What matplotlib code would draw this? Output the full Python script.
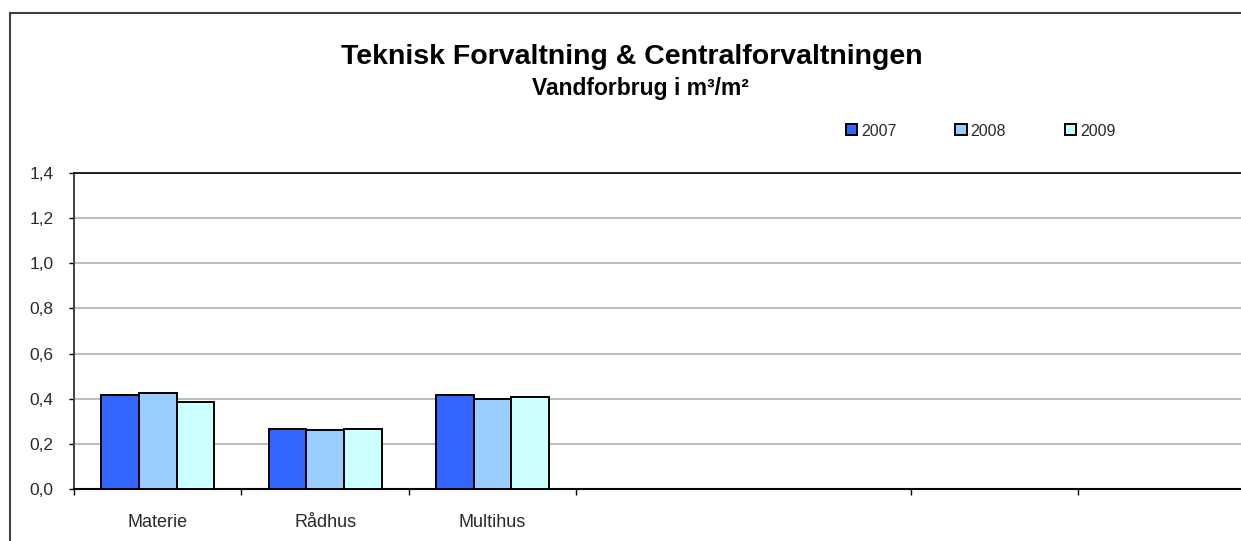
import matplotlib
matplotlib.use("Agg")
import matplotlib.pyplot as plt
from matplotlib.patches import Rectangle
import numpy as np

categories = ["Materie", "Rådhus", "Multihus", "", "", "", ""]
years = ["2007", "2008", "2009"]
v2007 = [0.418, 0.264, 0.418, np.nan, np.nan, np.nan, np.nan]
v2008 = [0.424, 0.260, 0.398, np.nan, np.nan, np.nan, np.nan]
v2009 = [0.387, 0.264, 0.407, np.nan, np.nan, np.nan, np.nan]
yticks = [0.0, 0.2, 0.4, 0.6, 0.8, 1.0, 1.2, 1.4]
ytick_labels = ["0,0", "0,2", "0,4", "0,6", "0,8", "1,0", "1,2", "1,4"]
title = "Teknisk Forvaltning & Centralforvaltningen"
subtitle = "Vandforbrug i m³/m²"

colors = ["#3366FF", "#99CCFF", "#CCFFFF"]

plt.rcParams['font.family'] = ['Liberation Sans', 'DejaVu Sans']

W, H = 1241, 541
fig = plt.figure(figsize=(W / 100, H / 100), dpi=100)

# outer chart border
fig.patches.append(Rectangle((10 / W, -0.1), 2.0, (H - 13) / H + 0.1,
                             transform=fig.transFigure, fill=False,
                             edgecolor="#404040", linewidth=1.5))

left, bottom = 74, 489
n = len(categories)
cat_w = 167.4
ax = fig.add_axes([left / W, (H - bottom) / H, n * cat_w / W, (bottom - 173) / H])

x = np.arange(n) + 0.5
bw = 0.225
for i, (vals, c, lab) in enumerate(zip([v2007, v2008, v2009], colors, years)):
    ax.bar(x + (i - 1) * bw, vals, width=bw, color=c, edgecolor="black",
           linewidth=1.4, label=lab, zorder=3)

ax.set_xlim(0, n)
ax.set_ylim(0, 1.4)
ax.set_yticks(yticks)
ax.set_yticklabels(ytick_labels, fontsize=12.5, color="#2a2a2a")
ax.set_xticks([0, 1, 2, 3, 5, 6])
ax.set_xticklabels([])
ax.set_xticks(x, minor=True)
ax.set_xticklabels(categories, minor=True, fontsize=13, color="#2a2a2a")
ax.tick_params(axis="x", which="minor", length=0, pad=18)
ax.tick_params(axis="x", which="major", length=4, width=1, color="black", direction="out")
ax.tick_params(axis="y", length=3.6, width=1, color="black", direction="out", pad=11)
ax.yaxis.grid(True, color="#B0B0B0", linewidth=1.2, zorder=0)
ax.set_axisbelow(True)
ax.spines["right"].set_visible(False)
ax.spines["top"].set_color("black")
ax.spines["top"].set_linewidth(1.2)
ax.spines["left"].set_color("#404040")
ax.spines["left"].set_linewidth(1.4)
ax.spines["bottom"].set_color("black")
ax.spines["bottom"].set_linewidth(1.5)

fig.text(632 / W, 1 - 57 / H, title, ha="center", va="center", fontsize=20.5, fontweight="bold")
fig.text(640 / W, 1 - 88 / H, subtitle, ha="center", va="center", fontsize=16.5, fontweight="bold")

leg = fig.legend(loc="center left", bbox_to_anchor=(846 / W, 1 - 131 / H), ncol=3,
                 frameon=False, fontsize=11.5, handlelength=0.69, handleheight=0.69,
                 handletextpad=0.25, columnspacing=3.7, borderaxespad=0, borderpad=0)
for t in leg.get_texts():
    t.set_color("#2a2a2a")

fig.savefig("out.png", dpi=100)
